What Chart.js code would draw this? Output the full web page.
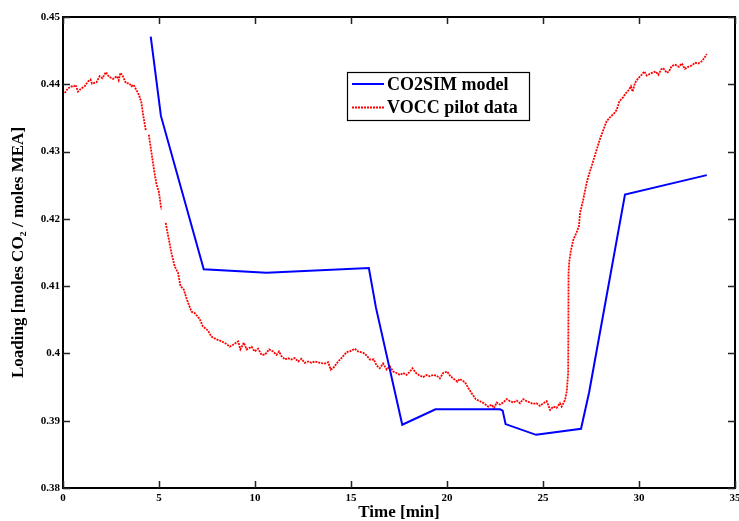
<!DOCTYPE html>
<html><head><meta charset="utf-8">
<script src="https://cdn.jsdelivr.net/npm/chart.js@4/dist/chart.umd.min.js"></script>
<style>html,body{margin:0;padding:0;background:#fff}#wrap{width:739px;height:521px}</style>
</head><body><div id="wrap"><canvas id="c" width="739" height="521"></canvas></div>
<script>
const xTicks = [0, 5, 10, 15, 20, 25, 30, 35];
const yTicks = [0.38, 0.39, 0.40, 0.41, 0.42, 0.43, 0.44, 0.45];
const seriesNames = ['CO2SIM model', 'VOCC pilot data'];
const xTitle = 'Time [min]';
const yTitle = 'Loading [moles CO\u2082 / moles MEA]';

const modelTime = [4.57,5.10,7.33,10.60,15.93,16.30,17.67,19.40,22.76,22.90,23.05,24.64,26.98,27.40,29.27,33.53];
const modelLoading = [0.4471,0.4353,0.4125,0.4120,0.4127,0.4068,0.3894,0.3917,0.3917,0.3915,0.3895,0.3879,0.3888,0.3942,0.4236,0.4265];

const pilotTime = [
0.09,0.26,0.44,0.52,0.66,0.78,0.96,1.13,1.30,1.43,
1.51,1.74,1.91,2.05,2.23,2.40,2.61,2.81,2.90,2.99,
3.12,3.27,3.47,3.56,3.68,3.83,3.96,4.09,4.17,4.31,
4.39,
4.47,4.61,4.74,4.87,4.99,5.12,
5.23,
5.35,5.48,5.65,5.82,5.99,6.12,6.29,6.43,6.57,6.70,
6.86,7.12,7.29,7.55,7.73,7.99,8.26,8.51,8.69,8.86,
9.12,9.24,9.42,9.56,9.82,9.98,10.16,10.34,10.51,10.74,
10.94,11.12,11.25,11.38,11.56,11.72,11.90,12.07,12.25,12.42,
12.59,12.77,12.94,13.12,13.38,13.64,13.81,13.94,14.07,14.33,
14.50,14.77,14.94,15.20,15.37,15.64,15.81,15.98,16.19,16.33,
16.50,16.67,16.86,17.02,17.20,17.37,17.55,17.72,17.89,18.07,
18.20,18.38,18.58,18.76,18.93,19.11,19.28,19.46,19.63,19.80,
20.01,20.18,20.36,20.54,20.67,20.94,21.10,21.28,21.50,21.72,
21.92,22.15,22.32,22.45,22.59,22.76,22.93,23.10,23.28,23.45,
23.63,23.80,23.97,24.15,24.32,24.49,24.66,24.84,25.02,25.19,
25.37,25.53,25.71,25.88,25.97,26.15,26.24,26.31,26.32,26.33,
26.37,26.46,26.58,26.75,26.87,26.93,27.09,27.27,27.36,27.53,
27.71,27.85,27.96,28.14,28.31,28.49,28.71,28.84,28.98,29.18,
29.32,29.48,29.58,29.67,29.79,29.96,30.10,30.28,30.40,30.67,
30.87,31.01,31.15,31.26,31.45,31.56,31.70,31.88,32.08,32.23,
32.39,32.57,32.75,32.92,33.09,33.26,33.40,33.53
];
const pilotLoading = [
0.4387,0.4394,0.4397,0.4396,0.4399,0.4389,0.4394,0.4397,0.4404,0.4407,
0.4401,0.4403,0.4412,0.4409,0.4418,0.4411,0.4408,0.4412,0.4406,0.4417,
0.4412,0.4402,0.4401,0.4397,0.4399,0.4391,0.4384,0.4372,0.4355,0.4332,
null,
0.4325,0.4298,0.4273,0.4251,0.4241,0.4214,
null,
0.4194,0.4174,0.4149,0.4129,0.4120,0.4100,0.4095,0.4082,0.4071,0.4062,
0.4060,0.4051,0.4040,0.4034,0.4025,0.4021,0.4018,0.4014,0.4010,0.4013,
0.4018,0.4006,0.4016,0.4006,0.4010,0.4003,0.4007,0.3998,0.3998,0.4006,
0.4003,0.3998,0.4003,0.3996,0.3991,0.3993,0.3991,0.3993,0.3988,0.3992,
0.3986,0.3988,0.3986,0.3988,0.3986,0.3985,0.3987,0.3976,0.3978,0.3988,
0.3993,0.4002,0.4003,0.4007,0.4003,0.4001,0.3997,0.3991,0.3991,0.3982,
0.3978,0.3985,0.3976,0.3981,0.3973,0.3971,0.3968,0.3971,0.3968,0.3973,
0.3978,0.3971,0.3967,0.3965,0.3968,0.3966,0.3968,0.3967,0.3963,0.3971,
0.3973,0.3966,0.3962,0.3958,0.3962,0.3957,0.3949,0.3941,0.3932,0.3929,
0.3926,0.3921,0.3924,0.3919,0.3927,0.3924,0.3927,0.3932,0.3929,0.3927,
0.3930,0.3926,0.3932,0.3929,0.3927,0.3925,0.3926,0.3922,0.3926,0.3929,
0.3916,0.3921,0.3919,0.3926,0.3921,0.3931,0.3944,0.3971,0.4035,0.4120,
0.4137,0.4154,0.4169,0.4180,0.4189,0.4209,0.4228,0.4253,0.4263,0.4278,
0.4295,0.4308,0.4318,0.4332,0.4345,0.4351,0.4357,0.4362,0.4375,0.4381,
0.4387,0.4392,0.4397,0.4389,0.4402,0.4409,0.4413,0.4419,0.4413,0.4417,
0.4419,0.4414,0.4422,0.4424,0.4417,0.4419,0.4427,0.4429,0.4426,0.4431,
0.4423,0.4426,0.4428,0.4432,0.4431,0.4434,0.4439,0.4445
];

const FONT = "'Liberation Serif', 'Times New Roman', 'DejaVu Serif', serif";

const framePlugin = {
  id: 'frame',
  afterDraw(chart) {
    const {ctx, chartArea: {left, right, top, bottom}, scales: {x, y}} = chart;
    ctx.save();
    ctx.strokeStyle = '#000';
    ctx.lineWidth = 2;
    ctx.strokeRect(left, top, right - left, bottom - top);
    ctx.lineWidth = 1.5;
    ctx.strokeStyle = '#222';
    ctx.beginPath();
    x.ticks.forEach(t => {
      const px = Math.round(x.getPixelForValue(t.value)) + 0.5;
      ctx.moveTo(px, bottom); ctx.lineTo(px, bottom - 7);
      ctx.moveTo(px, top); ctx.lineTo(px, top + 7);
    });
    y.ticks.forEach(t => {
      const py = Math.round(y.getPixelForValue(t.value)) + 0.5;
      ctx.moveTo(left, py); ctx.lineTo(left + 7, py);
      ctx.moveTo(right, py); ctx.lineTo(right - 7, py);
    });
    ctx.stroke();

    // legend box
    const bx = 347, by = 72, bw = 182, bh = 48;
    ctx.fillStyle = '#fff';
    ctx.fillRect(bx, by, bw, bh);
    ctx.strokeStyle = '#000';
    ctx.lineWidth = 1.2;
    ctx.strokeRect(bx + 0.5, by + 0.5, bw, bh);
    const rows = [84, 107.5];
    chart.data.datasets.forEach((ds, i) => {
      const ry = rows[i];
      ctx.save();
      ctx.strokeStyle = ds.borderColor;
      ctx.lineWidth = ds.borderWidth;
      ctx.setLineDash(ds.borderDash || []);
      ctx.beginPath();
      ctx.moveTo(352, ry); ctx.lineTo(384, ry);
      ctx.stroke();
      ctx.restore();
      ctx.fillStyle = '#000';
      ctx.font = "bold 18px " + FONT;
      ctx.textBaseline = 'middle';
      ctx.textAlign = 'left';
      ctx.fillText(ds.label, 387, ry + 1);
    });
    ctx.restore();
  }
};

new Chart(document.getElementById('c'), {
  type: 'line',
  data: {
    datasets: [
      {
        label: seriesNames[0],
        data: modelTime.map((t, i) => ({x: t, y: modelLoading[i]})),
        borderColor: '#0000ff',
        borderWidth: 2,
        pointRadius: 0,
        tension: 0,
        fill: false
      },
      {
        label: seriesNames[1],
        data: pilotTime.map((t, i) => ({x: t, y: pilotLoading[i]})),
        borderColor: '#ff0000',
        borderWidth: 1.8,
        borderDash: [2, 1],
        pointRadius: 0,
        tension: 0,
        fill: false,
        spanGaps: false
      }
    ]
  },
  options: {
    responsive: false,
    animation: false,
    devicePixelRatio: 1,
    layout: {padding: {left: 0, right: 4, top: 17, bottom: 0}},
    plugins: {legend: {display: false}, tooltip: {enabled: false}},
    scales: {
      x: {
        type: 'linear',
        min: 0, max: 35,
        afterBuildTicks: s => { s.ticks = xTicks.map(v => ({value: v})); },
        afterFit: s => { s.height = 33; s.paddingLeft = 0; s.paddingRight = 0; },
        grid: {display: false, drawTicks: false},
        border: {display: false},
        ticks: {
          padding: 4,
          color: '#000',
          maxRotation: 0,
          autoSkip: false,
          font: {family: FONT, size: 11, weight: 'bold'},
          callback: v => String(v)
        },
        title: {
          display: true, text: xTitle, color: '#000',
          font: {family: FONT, size: 17, weight: 'bold', lineHeight: 1},
          padding: {top: 0, bottom: 0}
        }
      },
      y: {
        type: 'linear',
        min: 0.38, max: 0.45,
        afterBuildTicks: s => { s.ticks = yTicks.map(v => ({value: v})); },
        afterFit: s => { s.width = 63; s.paddingTop = 0; s.paddingBottom = 0; },
        grid: {display: false, drawTicks: false},
        border: {display: false},
        ticks: {
          padding: 3,
          color: '#000',
          autoSkip: false,
          font: {family: FONT, size: 11, weight: 'bold'},
          callback: v => String(+v.toFixed(2))
        },
        title: {
          display: true, text: yTitle, color: '#000',
          font: {family: FONT, size: 17, weight: 'bold', lineHeight: 1},
          padding: {top: 10.5, bottom: 0}
        }
      }
    }
  },
  plugins: [framePlugin]
});
</script>
</body></html>
